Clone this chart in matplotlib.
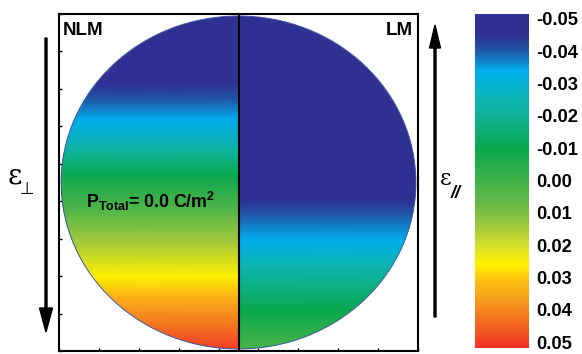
import numpy as np
import matplotlib
matplotlib.use('Agg')
import matplotlib.pyplot as plt
from matplotlib.colors import LinearSegmentedColormap, Normalize
from matplotlib.patches import Circle
from matplotlib.cm import ScalarMappable

# ---------------- data ----------------
# depth: 0 = top of the disk, 1 = bottom of the disk
depth_nlm = [0.0, 0.132, 0.207, 0.252, 0.312, 0.402, 0.477, 0.583, 0.682, 0.784, 0.844, 0.934, 1.0]
strain_nlm = [-0.05, -0.05, -0.045, -0.040, -0.034, -0.022, -0.010, 0.003, 0.015, 0.026, 0.034, 0.043, 0.05]
depth_lm = [0.0, 0.402, 0.553, 0.598, 0.673, 0.748, 0.823, 0.883, 0.943, 1.0]
strain_lm = [-0.05, -0.05, -0.046, -0.040, -0.034, -0.025, -0.016, -0.010, -0.004, 0.002]
cbar_ticks = [-0.05, -0.04, -0.03, -0.02, -0.01, 0.00, 0.01, 0.02, 0.03, 0.04, 0.05]
cbar_labels = ['-0.05', '-0.04', '-0.03', '-0.02', '-0.01', '0.00', '0.01', '0.02', '0.03', '0.04', '0.05']
panel_labels = ['NLM', 'LM']
polarization_label = r'P$_{\rm Total}$= 0.0 C/m$^{\rm 2}$'

# ---------------- style ----------------
plt.rcParams['font.family'] = ['Liberation Sans', 'DejaVu Sans']
plt.rcParams['mathtext.fontset'] = 'custom'
plt.rcParams['mathtext.rm'] = 'Liberation Sans:bold'
plt.rcParams['mathtext.it'] = 'Liberation Sans:bold'
plt.rcParams['mathtext.bf'] = 'Liberation Sans:bold'
plt.rcParams['mathtext.sf'] = 'Liberation Sans:bold'

vmin, vmax = -0.0515, 0.0518
cmap_nodes = [
    (-0.0515, '#2E3192'),
    (-0.045, '#2E3192'),
    (-0.040, '#1F5AA8'),
    (-0.034, '#00AEEF'),
    (-0.026, '#0DB5B8'),
    (-0.019, '#0EAF8E'),
    (-0.010, '#0AA84E'),
    (-0.001, '#3AB04A'),
    (0.008, '#6DBA45'),
    (0.015, '#A6CB3A'),
    (0.020, '#D6DE2C'),
    (0.026, '#FFF200'),
    (0.031, '#FDC010'),
    (0.036, '#F8A51C'),
    (0.042, '#F47B20'),
    (0.0518, '#EE3124'),
]
cmap = LinearSegmentedColormap.from_list(
    'strain', [((v - vmin) / (vmax - vmin), c) for v, c in cmap_nodes])
norm = Normalize(vmin, vmax)

fig = plt.figure(figsize=(5.82, 3.54), dpi=100)
lim = 1.012
ax = fig.add_axes([59 / 582, 1 - 351 / 354, 359 / 582, 337 / 354])
ax.set_xlim(-lim, lim)
ax.set_ylim(-lim, lim)


def half_mesh(depth, strain, x0, x1):
    d = np.asarray(depth)
    s = np.asarray(strain)
    y = 1 - 2 * d
    X = np.column_stack([np.full_like(y, x0), np.full_like(y, x1)])
    Y = np.column_stack([y, y])
    C = np.column_stack([s, s])
    m = ax.pcolormesh(X, Y, C, shading='gouraud', cmap=cmap, norm=norm, zorder=1)
    m.set_clip_path(Circle((0, 0), 1, transform=ax.transData))
    return m


half_mesh(depth_nlm, strain_nlm, -1.05, 0.0)
half_mesh(depth_lm, strain_lm, 0.0, 1.05)
ax.add_patch(Circle((0, 0), 1, fill=False, ec='#3E54A3', lw=0.7, zorder=2))
ax.axvline(0, color='black', lw=1.5, zorder=3)

ax.set_xticks(np.linspace(-lim, lim, 10))
ax.set_yticks(np.linspace(-lim, lim, 10))
ax.tick_params(direction='in', length=2.5, width=1, labelbottom=False, labelleft=False,
               top=False, right=False)
for sp in ax.spines.values():
    sp.set_linewidth(1.5)

# colorbar
cax = fig.add_axes([475 / 582, 1 - 348 / 354, 54 / 582, 334 / 354])
cb = fig.colorbar(ScalarMappable(norm=norm, cmap=cmap), cax=cax)
cb.outline.set_visible(False)
cax.invert_yaxis()
cb.set_ticks(cbar_ticks, labels=cbar_labels)
cax.tick_params(length=0, pad=5, labelsize=13.2)
for t in cax.get_yticklabels():
    t.set_fontweight('bold')

# overlay in pixel coordinates for annotations
ov = fig.add_axes([0, 0, 1, 1])
ov.set_xlim(0, 582)
ov.set_ylim(354, 0)
ov.axis('off')

ov.text(63, 35, panel_labels[0], fontsize=13.5, fontweight='bold', ha='left', va='baseline')
ov.text(413, 35, panel_labels[1], fontsize=13.5, fontweight='bold', ha='right', va='baseline')
ov.text(86, 208, polarization_label, fontsize=12.8, fontweight='bold', ha='left', va='baseline',
        math_fontfamily='custom')

ov.text(8, 183, 'ε', fontsize=20, family='DejaVu Serif', ha='left', va='baseline')
ov.text(20, 194, '⊥', fontsize=12, family='DejaVu Sans', ha='left', va='baseline')
ov.text(440, 185, 'ε', fontsize=16, family='DejaVu Serif', ha='left', va='baseline')
ov.text(451, 198, '//', fontsize=13, fontweight='bold', style='italic', ha='left', va='baseline')

ov.arrow(46, 38, 0, 294, width=2, head_width=13, head_length=24,
         length_includes_head=True, color='black')
ov.arrow(435, 317, 0, -292, width=2, head_width=11, head_length=23,
         length_includes_head=True, color='black')

fig.savefig('out.png', dpi=100)
